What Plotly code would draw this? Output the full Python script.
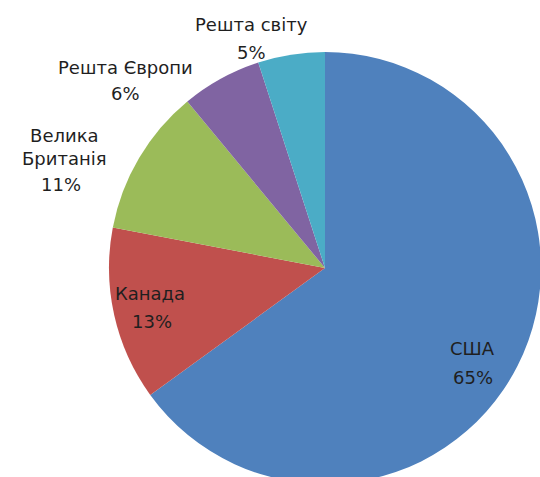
import plotly.graph_objects as go

# Market share by region
regions = ["США", "Канада", "Велика Британія", "Решта Європи", "Решта світу"]
shares = [65, 13, 11, 6, 5]
slice_colors = ["#4F81BD", "#C0504D", "#9BBB59", "#8064A2", "#4BACC6"]

# Figure canvas (the pie runs off the right and bottom edges of the page)
W, H = 650, 540
PIE_TOP, PIE_BOTTOM = 52, 484  # pie extent in page pixels

# Label placement in page pixels: centre of the name line(s) and of the share line
name_px = {
    "США": (472, 348),
    "Канада": (150, 293),
    "Велика Британія": (64, 147),
    "Решта Європи": (125, 67),
    "Решта світу": (252, 25),
}
pct_px = {
    "США": (473, 377),
    "Канада": (152, 321),
    "Велика Британія": (61, 184),
    "Решта Європи": (126, 93),
    "Решта світу": (252, 53),
}
wrapped = {"Велика Британія": "Велика<br>Британія"}

LABEL_FONT = dict(family="DejaVu Sans", size=18, color="#1f1f1f")


def px_to_paper(x, y):
    return x / W, 1 - y / H


fig = go.Figure(
    go.Pie(
        labels=regions,
        values=shares,
        sort=False,
        direction="clockwise",
        rotation=0,
        marker=dict(colors=slice_colors, line=dict(width=0)),
        textinfo="none",
        hoverinfo="label+percent",
        domain=dict(x=[0, 1], y=[1 - PIE_BOTTOM / H, 1 - PIE_TOP / H]),
    )
)

total = sum(shares)
annotations = []
for region, share in zip(regions, shares):
    nx, ny = px_to_paper(*name_px[region])
    annotations.append(dict(
        x=nx, y=ny, xref="paper", yref="paper",
        text=wrapped.get(region, region),
        showarrow=False, xanchor="center", yanchor="middle",
        font=LABEL_FONT,
    ))
    qx, qy = px_to_paper(*pct_px[region])
    annotations.append(dict(
        x=qx, y=qy, xref="paper", yref="paper",
        text=f"{round(100 * share / total)}%",
        showarrow=False, xanchor="center", yanchor="middle",
        font=LABEL_FONT,
    ))

fig.update_layout(
    width=W,
    height=H,
    margin=dict(l=0, r=0, t=0, b=0),
    paper_bgcolor="white",
    plot_bgcolor="white",
    showlegend=False,
    annotations=annotations,
)

fig.write_html(
    "out.html",
    post_script=(
        "document.body.style.margin='0';"
        "document.body.style.overflow='hidden';"
        "document.documentElement.style.overflow='hidden';"
    ),
)
